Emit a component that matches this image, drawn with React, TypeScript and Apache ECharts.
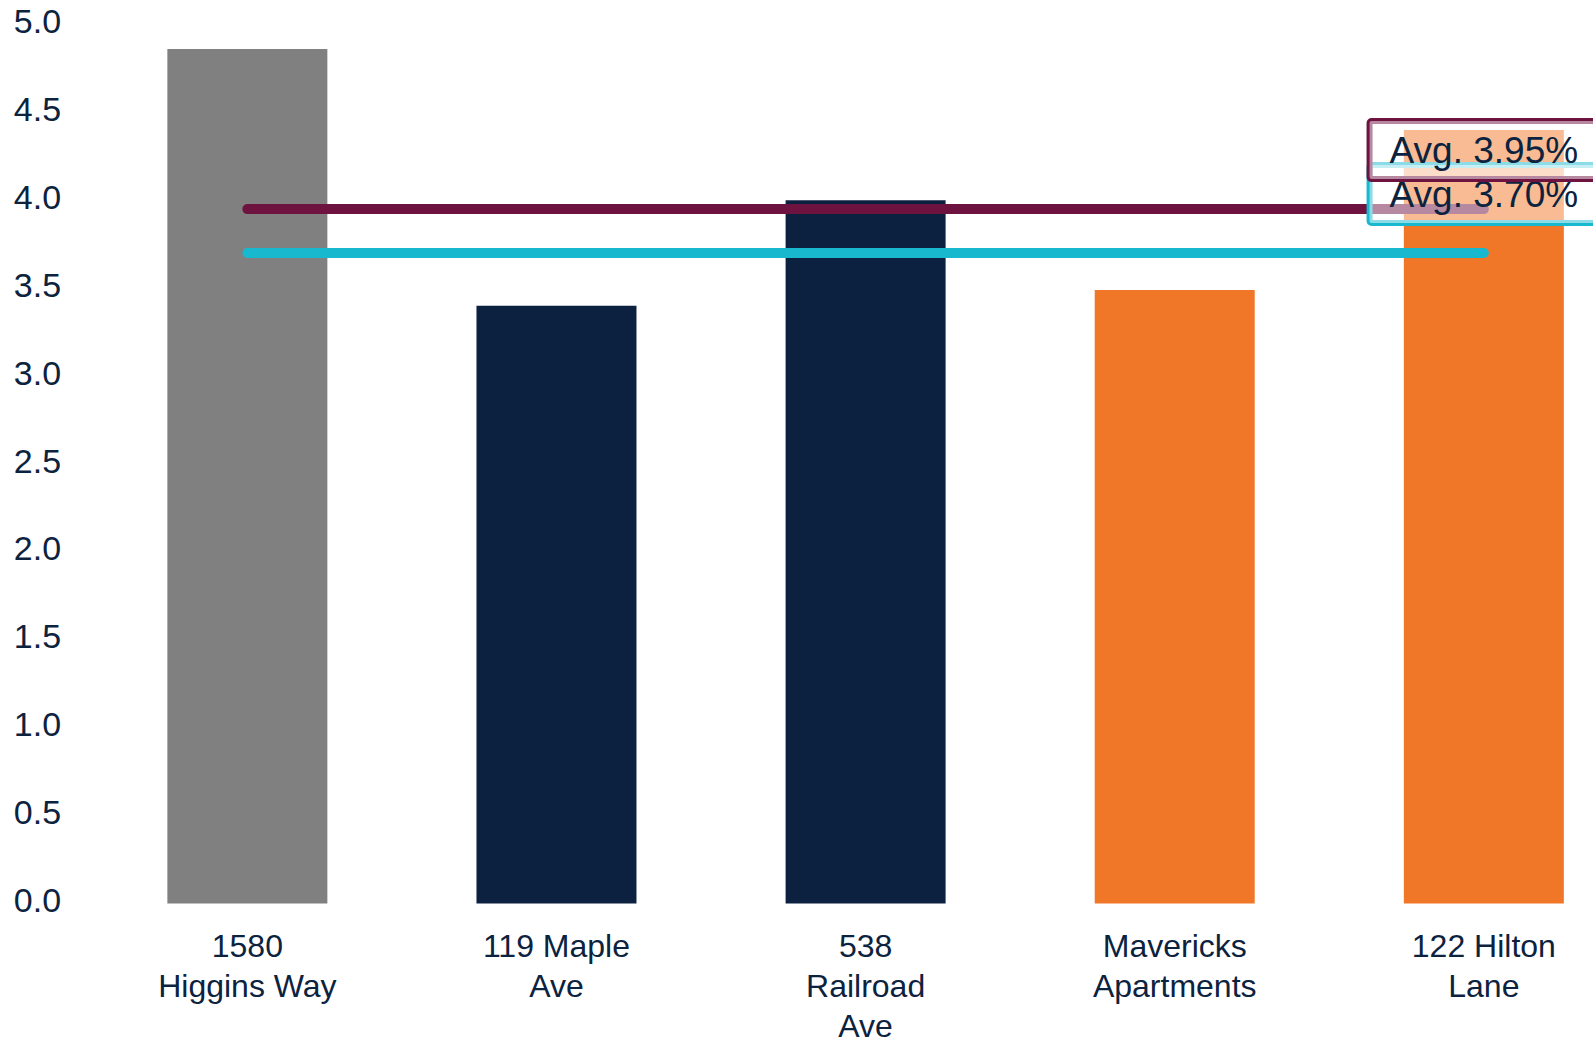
import React, { useEffect, useRef } from "react";
import * as echarts from "echarts";

const categories = [
  "1580\nHiggins Way",
  "119 Maple\nAve",
  "538\nRailroad\nAve",
  "Mavericks\nApartments",
  "122 Hilton\nLane",
];
const values = [4.86, 3.4, 4.0, 3.49, 4.4];
const barColors = ["#808080", "#0C203F", "#0C203F", "#F07727", "#F07727"];
const avgLabels = ["Avg. 3.70%", "Avg. 3.95%"];
const avgValues = [3.7, 3.95];
const avgColors = ["#18B8CF", "#6E1240"];
const yTicks = [0, 0.5, 1, 1.5, 2, 2.5, 3, 3.5, 4, 4.5, 5];

const TEXT = "#0C2340";
const FONT = "'Liberation Sans', Arial, sans-serif";

export default function App() {
  const ref = useRef<HTMLDivElement>(null);
  useEffect(() => {
    if (!ref.current) return;
    const chart = echarts.init(ref.current, null, { renderer: "svg" });
    const lastIdx = categories.length - 1;
    const avgSeries = avgValues.map((v, i) => ({
      type: "line",
      name: avgLabels[i],
      data: categories.map(() => v),
      showSymbol: false,
      symbol: "none",
      z: 3,
      lineStyle: { color: avgColors[i], width: 10, cap: "round" },
      markPoint: {
        symbol: "circle",
        symbolSize: 0,
        data: [{ coord: [lastIdx, v] }],
        label: {
          show: true,
          position: "inside",
          offset: [0, -59],
          formatter: avgLabels[i],
          fontFamily: FONT,
          fontSize: 37,
          lineHeight: 40,
          color: TEXT,
          backgroundColor: "rgba(255,255,255,0.5)",
          borderColor: avgColors[i],
          borderWidth: 3,
          borderRadius: 2,
          padding: [9, 20],
        },
      },
    }));
    chart.setOption({
      animation: false,
      grid: {
        left: 92.8,
        width: 1545.6,
        top: 24.5,
        bottom: 139.5,
        outerBoundsMode: "none",
        containLabel: false,
      },
      xAxis: {
        type: "category",
        data: categories,
        axisLine: { show: false },
        axisTick: { show: false },
        axisLabel: {
          interval: 0,
          margin: 22,
          fontFamily: FONT,
          fontSize: 32,
          lineHeight: 40,
          color: TEXT,
          verticalAlign: "top",
        },
      },
      yAxis: {
        type: "value",
        min: yTicks[0],
        max: yTicks[yTicks.length - 1],
        interval: 0.5,
        splitLine: { show: false },
        axisLine: { show: false },
        axisTick: { show: false },
        axisLabel: {
          align: "left",
          verticalAlign: "bottom",
          lineHeight: 7,
          margin: 79,
          fontFamily: FONT,
          fontSize: 34,
          color: TEXT,
          formatter: (v: number) => v.toFixed(1),
        },
      },
      series: [
        {
          type: "bar",
          barWidth: 160,
          z: 2,
          data: values.map((v, i) => ({ value: v, itemStyle: { color: barColors[i] } })),
        },
        ...avgSeries,
      ],
    });
    return () => chart.dispose();
  }, []);
  return (
    <div
      ref={ref}
      style={{ position: "fixed", left: 0, top: 0, width: 1593, height: 1043, background: "#fff" }}
    />
  );
}
